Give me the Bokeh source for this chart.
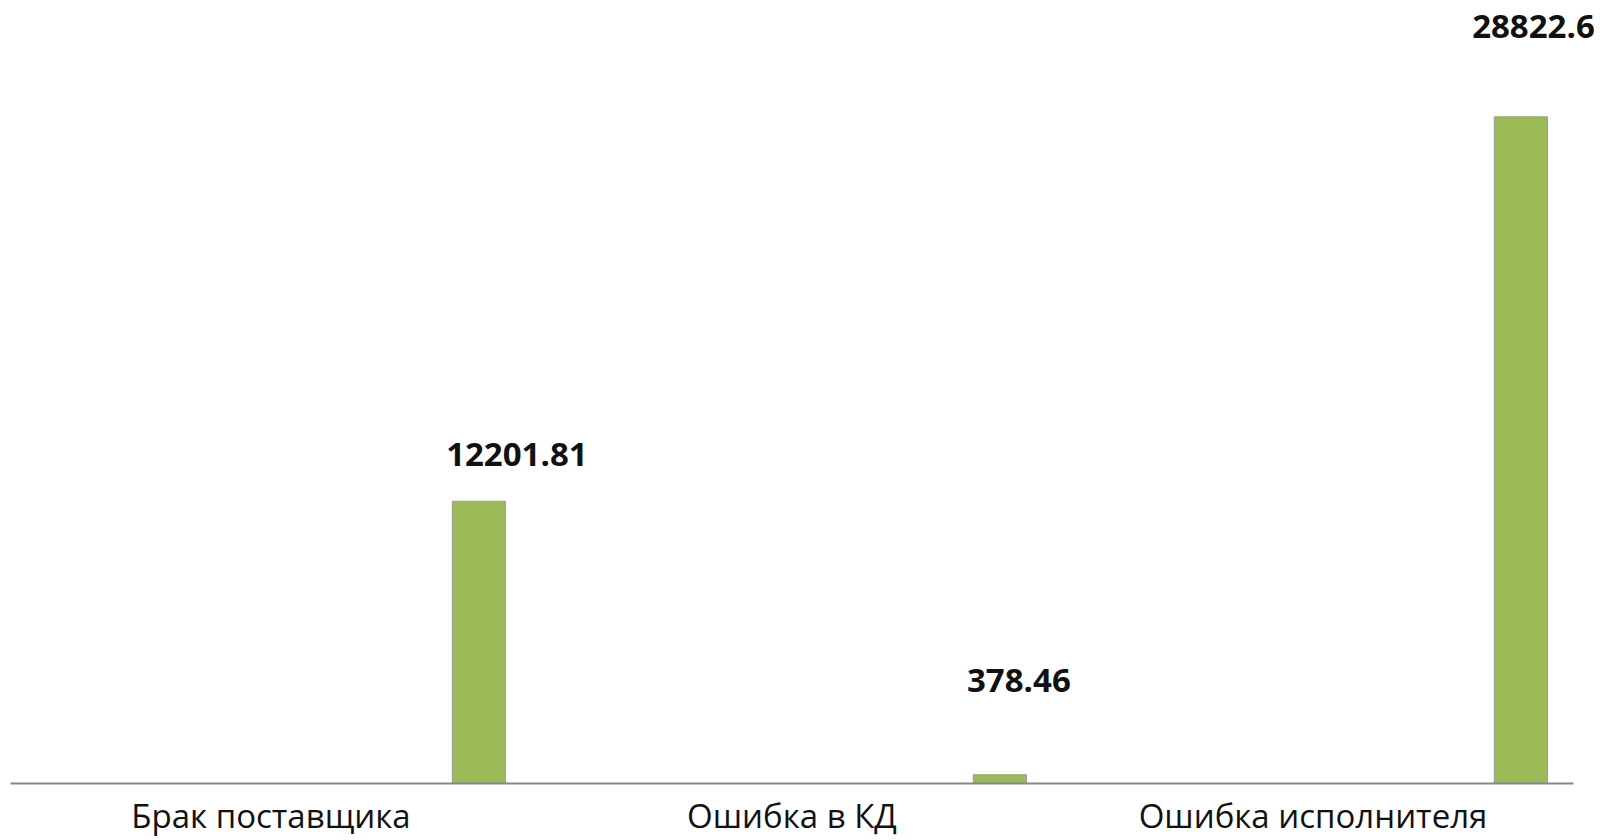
from bokeh.plotting import figure
from bokeh.models import Range1d, FixedTicker, ColumnDataSource
from bokeh.embed import file_html
from bokeh.resources import INLINE
from bokeh.core.properties import value

categories = ["Брак поставщика", "Ошибка в КД", "Ошибка исполнителя"]
amounts = [12201.81, 378.46, 28822.67]
value_labels = ["12201.81", "378.46", "28822.67"]

# style / placement (not data)
BAR_OFFSET = 0.899
BAR_WIDTH = 0.102
label_dx = [38, 19, 22]
label_dy = [-47, -94, -90]

idx = list(range(len(categories)))
src = ColumnDataSource(dict(
    x=[i + BAR_OFFSET for i in idx], top=amounts, label=value_labels,
    dx=label_dx, dy=label_dy))

p = figure(width=1594, height=840,
           x_range=Range1d(0, 3.0403), y_range=Range1d(0, 33852),
           output_backend="svg", toolbar_location=None,
           min_border_left=10, min_border_right=0, min_border_top=0,
           min_border_bottom=40)
p.vbar(x="x", top="top", bottom=0, width=BAR_WIDTH, source=src,
       fill_color="#9BBB59", line_color="#9a9a9a", line_width=1)
p.text(x="x", y="top", text="label", x_offset="dx", y_offset="dy", source=src,
       text_align="center", text_baseline="alphabetic",
       text_font=value("Open Sans"), text_font_style="bold",
       text_font_size="33px", text_color="#111111")

ticks = [i + 0.5 for i in idx]
p.xaxis.ticker = FixedTicker(ticks=ticks)
p.xaxis.major_label_overrides = {t: c for t, c in zip(ticks, categories)}
p.xaxis.bounds = (0, len(categories))
p.xaxis.axis_line_color = "#868686"
p.xaxis.axis_line_width = 2
p.xaxis.major_tick_line_color = None
p.xaxis.minor_tick_line_color = None
p.xaxis.major_tick_out = 0
p.xaxis.major_tick_in = 0
p.xaxis.major_label_text_font = "Open Sans"
p.xaxis.major_label_text_font_size = "33px"
p.xaxis.major_label_text_color = "#111111"
p.xaxis.major_label_standoff = 9
p.yaxis.visible = False
p.grid.visible = False
p.outline_line_color = None
p.background_fill_color = "white"

open("out.html", "w").write(file_html(p, INLINE))
